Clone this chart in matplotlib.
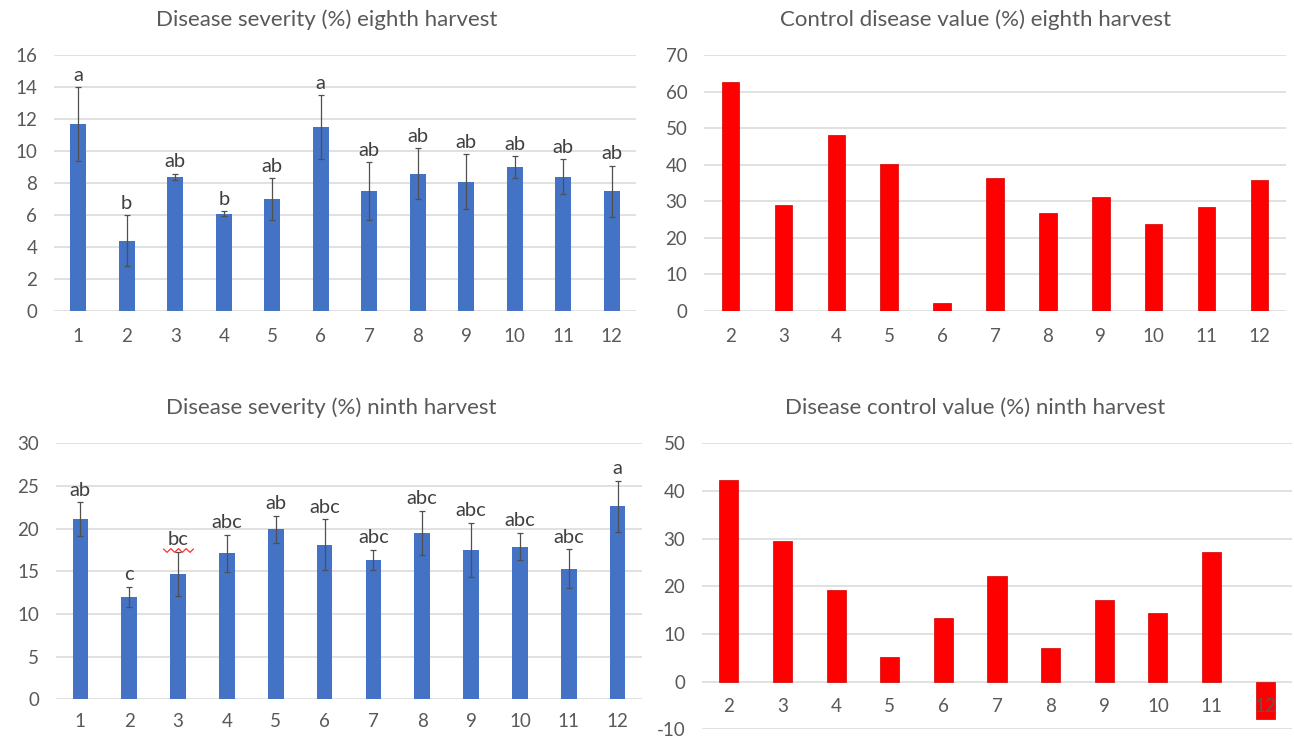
import numpy as np
import matplotlib.pyplot as plt
from matplotlib.path import Path
from matplotlib.transforms import offset_copy

plt.rcParams['font.family'] = ['Lato', 'DejaVu Sans']
plt.rcParams['axes.unicode_minus'] = False

# treatments
trt_all = [1, 2, 3, 4, 5, 6, 7, 8, 9, 10, 11, 12]
trt_ctrl = [2, 3, 4, 5, 6, 7, 8, 9, 10, 11, 12]

# eighth harvest
sev8 = [11.7, 4.4, 8.4, 6.1, 7.0, 11.5, 7.5, 8.6, 8.1, 9.0, 8.4, 7.5]
sev8_err = [2.3, 1.6, 0.2, 0.15, 1.3, 2.0, 1.8, 1.6, 1.7, 0.7, 1.1, 1.6]
sev8_grp = ['a', 'b', 'ab', 'b', 'ab', 'a', 'ab', 'ab', 'ab', 'ab', 'ab', 'ab']
ctrl8 = [62.7, 29.0, 48.2, 40.3, 2.3, 36.4, 26.9, 31.1, 23.7, 28.5, 35.9]

# ninth harvest
sev9 = [21.1, 12.0, 14.7, 17.1, 19.9, 18.1, 16.3, 19.5, 17.5, 17.9, 15.3, 22.6]
sev9_err = [2.0, 1.2, 2.6, 2.2, 1.6, 3.0, 1.2, 2.6, 3.2, 1.6, 2.3, 3.0]
sev9_grp = ['ab', 'c', 'bc', 'abc', 'ab', 'abc', 'abc', 'abc', 'abc', 'abc', 'abc', 'a']
ctrl9 = [42.3, 29.6, 19.2, 5.1, 13.4, 22.1, 7.0, 17.1, 14.5, 27.2, -7.8]

BLUE = '#4472C4'
RED = '#FF0000'
TXT = '#595959'
GRID = '#D9D9D9'

W, H = 1294, 737
fig = plt.figure(figsize=(W / 100, H / 100), dpi=100)


def px_axes(left, right, top, bottom):
    return fig.add_axes([left / W, 1 - bottom / H, (right - left) / W, (bottom - top) / H])


def style(ax, ylim, step, xpad=14):
    ax.set_ylim(*ylim)
    ax.set_yticks(np.arange(ylim[0], ylim[1] + step / 2, step))
    ax.yaxis.grid(True, color=GRID, lw=1.1)
    ax.set_axisbelow(True)
    ax.xaxis.set_zorder(3)
    for s in ax.spines.values():
        s.set_visible(False)
    ax.tick_params(axis='both', length=0, labelsize=13.5, labelcolor=TXT)
    ax.tick_params(axis='y', pad=12)
    ax.tick_params(axis='x', pad=xpad)


def severity(ax, vals, err, grp, ylim, step, xpad):
    ax.bar(trt_all, vals, width=0.32, color=BLUE)
    ax.errorbar(trt_all, vals, yerr=err, fmt='none', ecolor='#505050',
                elinewidth=0.9, capsize=2, capthick=0.9)
    for x, v, e, g in zip(trt_all, vals, err, grp):
        ax.annotate(g, (x, v + e), xytext=(0, 2.5), textcoords='offset points',
                    ha='center', va='bottom', fontsize=14.5, color='#404040')
    ax.set_xlim(0.5, 12.5)
    ax.set_xticks(trt_all)
    style(ax, ylim, step, xpad)


def control(ax, vals, ylim, step, width, xpad):
    ax.bar(trt_ctrl, vals, width=width, color=RED, edgecolor='#D00000', lw=0.5)
    ax.set_xlim(1.5, 12.5)
    ax.set_xticks(trt_ctrl)
    style(ax, ylim, step, xpad)


ax1 = px_axes(54, 636, 55.3, 311)
severity(ax1, sev8, sev8_err, sev8_grp, (0, 16), 2, 12)

ax2 = px_axes(704, 1286, 55.3, 311)
control(ax2, ctrl8, (0, 70), 10, 0.33, 12)

ax3 = px_axes(56, 642, 443.3, 699.3)
severity(ax3, sev9, sev9_err, sev9_grp, (0, 30), 5, 10)

ax4 = px_axes(702, 1292, 443.3, 729.3)
control(ax4, ctrl9, (-10, 50), 10, 0.355, 12)
# category labels sit next to the zero line
ax4.spines['bottom'].set_position(('data', 0))

# spell-check squiggle under the "bc" letters of treatment 3
wx = np.linspace(-1, 1, 9)
wy = np.where(np.arange(9) % 2 == 0, 0.12, -0.12)
wave = Path(np.column_stack([wx, wy]), [Path.MOVETO] + [Path.LINETO] * 8)
ax3.plot([3], [sev9[2] + sev9_err[2]], marker=wave, ms=22, mfc='none',
         mec='#FF3030', mew=0.9, ls='none',
         transform=offset_copy(ax3.transData, fig=fig, y=1.5, units='points'))

titles = [
    ('Disease severity (%) eighth harvest', 327, 20),
    ('Control disease value (%) eighth harvest', 976, 20),
    ('Disease severity (%) ninth harvest', 331, 408),
    ('Disease control value (%) ninth harvest', 975, 408),
]
for t, x, y in titles:
    fig.text(x / W, 1 - y / H, t, ha='center', va='center', fontsize=16, color=TXT)

fig.savefig('out.png', dpi=100)
